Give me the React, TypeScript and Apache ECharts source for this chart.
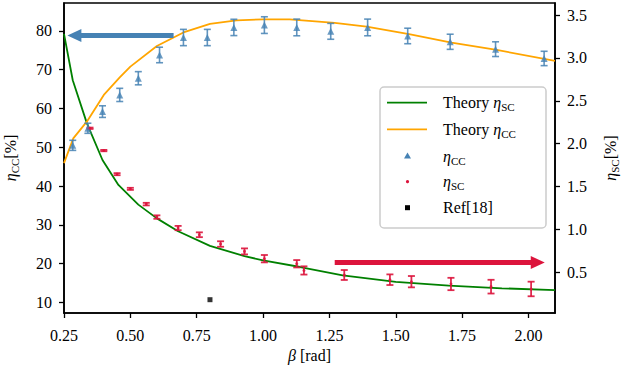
import React, { useEffect, useRef } from "react";
import * as echarts from "echarts";

// ---- data ----
const ccBeta = [0.283, 0.34, 0.395, 0.46, 0.53, 0.61, 0.70, 0.79, 0.89, 1.005, 1.127, 1.255, 1.394, 1.545, 1.705, 1.876, 2.059];
const ccVal = [50.5, 54.9, 59.2, 63.5, 67.8, 73.8, 78.3, 78.3, 80.9, 81.5, 80.9, 79.9, 80.9, 78.7, 77.2, 75.3, 72.9];
const ccErr = [1.3, 1.3, 1.5, 1.7, 1.7, 2.0, 2.1, 2.1, 2.1, 2.15, 2.15, 2.05, 2.15, 2.0, 1.95, 1.9, 1.85];

const scBeta = [0.348, 0.40, 0.45, 0.50, 0.56, 0.60, 0.68, 0.76, 0.84, 0.93, 1.005, 1.127, 1.154, 1.306, 1.478, 1.559, 1.708, 1.859, 2.01];
const scVal = [2.18, 1.92, 1.645, 1.474, 1.296, 1.145, 1.017, 0.939, 0.831, 0.745, 0.66, 0.601, 0.523, 0.47, 0.415, 0.392, 0.365, 0.334, 0.307];
const scErr = [0.008, 0.008, 0.012, 0.012, 0.015, 0.02, 0.025, 0.028, 0.032, 0.035, 0.043, 0.043, 0.048, 0.058, 0.062, 0.066, 0.072, 0.08, 0.085];

const thScBeta = [0.25, 0.283, 0.336, 0.395, 0.455, 0.53, 0.60, 0.68, 0.80, 0.93, 1.0, 1.14, 1.30, 1.50, 1.70, 1.90, 2.10];
const thScVal = [3.28, 2.74, 2.24, 1.81, 1.52, 1.29, 1.13, 0.98, 0.81, 0.69, 0.64, 0.563, 0.465, 0.39, 0.345, 0.315, 0.293];

const thCcBeta = [0.25, 0.285, 0.336, 0.40, 0.46, 0.50, 0.60, 0.70, 0.80, 0.90, 1.00, 1.10, 1.27, 1.39, 1.55, 1.71, 1.88, 2.10];
const thCcVal = [45.9, 52.3, 56.6, 63.5, 68.0, 70.8, 76.1, 79.6, 81.8, 82.7, 83.0, 83.0, 82.1, 81.1, 79.2, 77.0, 75.1, 72.3];

const refBeta = [0.80];
const refVal = [10.7];

const xTicks = [0.25, 0.5, 0.75, 1.0, 1.25, 1.5, 1.75, 2.0];
const leftTicks = [10, 20, 30, 40, 50, 60, 70, 80];
const rightTicks = [0.5, 1.0, 1.5, 2.0, 2.5, 3.0, 3.5];

const legendNames = ["Theory {e|η}{s|SC}", "Theory {e|η}{s|CC}", "{e|η}{s|CC}", "{e|η}{s|SC}", "Ref[18]"];

// ---- styles ----
const FONT = "'Liberation Serif', 'DejaVu Serif', serif";
const BLUE = "#4682b4";
const RED = "#dc143c";
const GREEN = "#008000";
const ORANGE = "#ffa500";

const rich = {
  n: { fontFamily: FONT, fontSize: 16, lineHeight: 20, color: "#000" },
  e: { fontFamily: FONT, fontSize: 16, lineHeight: 20, fontStyle: "italic", color: "#000" },
  s: { fontFamily: FONT, fontSize: 11, lineHeight: 11, verticalAlign: "bottom", color: "#000" },
};

function errRender(color: string, capHalf: number, lw: number, opacity: number) {
  return (params: any, api: any) => {
    const x = api.value(0);
    const y = api.value(1);
    const e = api.value(2);
    const top = api.coord([x, y + e]);
    const bot = api.coord([x, y - e]);
    const st = { stroke: color, lineWidth: lw, opacity };
    return {
      type: "group",
      children: [
        { type: "line", shape: { x1: top[0], y1: top[1], x2: bot[0], y2: bot[1] }, style: st },
        { type: "line", shape: { x1: top[0] - capHalf, y1: top[1], x2: top[0] + capHalf, y2: top[1] }, style: st },
        { type: "line", shape: { x1: bot[0] - capHalf, y1: bot[1], x2: bot[0] + capHalf, y2: bot[1] }, style: st },
      ],
    };
  };
}

export default function App() {
  const ref = useRef<HTMLDivElement>(null);
  useEffect(() => {
    if (!ref.current) return;
    const chart = echarts.init(ref.current, undefined, { renderer: "svg" });
    const axisLine = { show: true, lineStyle: { color: "#000", width: 1.6 } };
    const tick = { show: true, inside: false, length: 5, lineStyle: { color: "#000", width: 1.3 } };
    const lab = { color: "#000", fontFamily: FONT, fontSize: 16 };

    const legendX = 380, legendY = 87, legendW = 166, legendH = 141;
    const rowY = [102.7, 129.3, 156, 181.7, 207.7];
    const graphic: any[] = [
      {
        type: "rect", z: 100,
        shape: { x: legendX, y: legendY, width: legendW, height: legendH, r: 4 },
        style: { fill: "rgba(255,255,255,0.8)", stroke: "#cccccc", lineWidth: 1.5 },
      },
      { type: "line", z: 101, shape: { x1: 387, y1: rowY[0], x2: 427, y2: rowY[0] }, style: { stroke: GREEN, lineWidth: 1.8 } },
      { type: "line", z: 101, shape: { x1: 387, y1: rowY[1], x2: 427, y2: rowY[1] }, style: { stroke: ORANGE, lineWidth: 1.8 } },
      { type: "polygon", z: 101, shape: { points: [[407.5, rowY[2] - 3.5], [411, rowY[2] + 2.5], [404, rowY[2] + 2.5]] }, style: { fill: BLUE } },
      { type: "circle", z: 101, shape: { cx: 407.5, cy: rowY[3], r: 1.6 }, style: { fill: RED } },
      { type: "rect", z: 101, shape: { x: 405, y: rowY[4] - 2.5, width: 5, height: 5 }, style: { fill: "#000" } },
    ];
    legendNames.forEach((t, i) => {
      graphic.push({
        type: "text", z: 101, x: 443, y: rowY[i],
        style: { text: t, rich, fontFamily: FONT, fontSize: 16, fill: "#000", verticalAlign: "middle", align: "left" },
      });
    });

    chart.setOption({
      animation: false,
      grid: {
        left: 64, right: 68, top: 3, bottom: 59, show: true, borderColor: "#000", borderWidth: 1.6,
        backgroundColor: "transparent", containLabel: false, outerBoundsMode: "none",
      },
      xAxis: {
        type: "value", min: 0.25, max: 2.1,
        axisLine, axisTick: { ...tick, customValues: xTicks },
        axisLabel: { ...lab, margin: 14, customValues: xTicks, formatter: (v: number) => v.toFixed(2) },
        splitLine: { show: false },
        name: "{e|β} {n|[rad]}", nameLocation: "middle", nameGap: 32,
        nameTextStyle: { ...lab, rich },
      },
      yAxis: [
        {
          type: "value", min: 7.27, max: 87.2, position: "left",
          axisLine, axisTick: { ...tick, customValues: leftTicks },
          axisLabel: { ...lab, margin: 12, customValues: leftTicks, formatter: (v: number) => String(Math.round(v)) },
          splitLine: { show: false },
          name: "{e|η}{s|CC}{n|[%]}", nameLocation: "middle", nameGap: 44, nameRotate: 90,
          nameTextStyle: { ...lab, rich },
        },
        {
          type: "value", min: 0.027, max: 3.64, position: "right",
          axisLine, axisTick: { ...tick, customValues: rightTicks },
          axisLabel: { ...lab, margin: 12, customValues: rightTicks, formatter: (v: number) => v.toFixed(1) },
          splitLine: { show: false },
          name: "{e|η}{s|SC}{n|[%]}", nameLocation: "middle", nameGap: 45, nameRotate: 90,
          nameTextStyle: { ...lab, rich },
        },
      ],
      series: [
        {
          name: "Theory SC", type: "line", yAxisIndex: 1, symbol: "none", z: 3,
          lineStyle: { color: GREEN, width: 1.8 },
          data: thScBeta.map((b, i) => [b, thScVal[i]]),
          markLine: {
            silent: true, symbol: ["none", "triangle"], symbolSize: [13, 14],
            label: { show: false },
            lineStyle: { color: RED, width: 5, type: "solid" },
            data: [[{ coord: [1.27, 0.616] }, { coord: [2.035, 0.616] }]],
          },
        },
        {
          name: "Theory CC", type: "line", yAxisIndex: 0, symbol: "none", z: 3,
          lineStyle: { color: ORANGE, width: 1.8 },
          data: thCcBeta.map((b, i) => [b, thCcVal[i]]),
          markLine: {
            silent: true, symbol: ["none", "triangle"], symbolSize: [13, 14],
            label: { show: false },
            lineStyle: { color: BLUE, width: 5, type: "solid" },
            data: [[{ coord: [0.663, 78.8] }, { coord: [0.289, 78.8] }]],
          },
        },
        {
          name: "cc err", type: "custom", yAxisIndex: 0, z: 4,
          renderItem: errRender(BLUE, 3.5, 1.6, 0.85),
          data: ccBeta.map((b, i) => [b, ccVal[i], ccErr[i]]),
        },
        {
          name: "cc", type: "scatter", yAxisIndex: 0, symbol: "triangle", symbolSize: 7, z: 5,
          itemStyle: { color: BLUE },
          data: ccBeta.map((b, i) => [b, ccVal[i]]),
        },
        {
          name: "sc err", type: "custom", yAxisIndex: 1, z: 4,
          renderItem: errRender(RED, 3.5, 1.8, 0.9),
          data: scBeta.map((b, i) => [b, scVal[i], scErr[i]]),
        },
        {
          name: "sc", type: "scatter", yAxisIndex: 1, symbol: "circle", symbolSize: 3, z: 5,
          itemStyle: { color: RED },
          data: scBeta.map((b, i) => [b, scVal[i]]),
        },
        {
          name: "ref", type: "scatter", yAxisIndex: 0, symbol: "rect", symbolSize: 5, z: 5,
          itemStyle: { color: "#000" },
          data: refBeta.map((b, i) => [b, refVal[i]]),
        },
      ],
      graphic,
    });
    return () => chart.dispose();
  }, []);
  return <div ref={ref} style={{ position: "fixed", left: 0, top: 0, width: 623, height: 372, background: "#fff" }} />;
}
